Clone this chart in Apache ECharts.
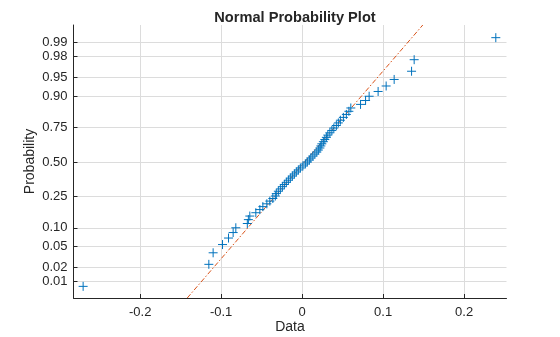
<!DOCTYPE html>
<html><head><meta charset="utf-8">
<script src="https://cdn.jsdelivr.net/npm/echarts@6/dist/echarts.min.js"></script>
<style>html,body{margin:0;padding:0;background:#fff}#c{width:560px;height:337px}</style>
</head><body><div id="c"></div>
<script>
const dataValues = [
  -0.2704, -0.1152, -0.1099, -0.0983, -0.0909, -0.0852, -0.0819, -0.0677, -0.0664, -0.0646,
  -0.0572, -0.0522, -0.0485, -0.0436, -0.0399, -0.0362, -0.0331, -0.0319, -0.0294, -0.0269,
  -0.0244, -0.0220, -0.0195, -0.0170, -0.0146, -0.0121, -0.0096, -0.0072, -0.0047, -0.0022,
   0.0009,  0.0040,  0.0064,  0.0089,  0.0107,  0.0132,  0.0157,  0.0181,  0.0200,  0.0219,
   0.0231,  0.0243,  0.0262,  0.0280,  0.0299,  0.0317,  0.0342,  0.0367,  0.0391,  0.0422,
   0.0447,  0.0472,  0.0509,  0.0546,  0.0577,  0.0601,  0.0721,  0.0783,  0.0827,  0.0938,
   0.1037,  0.1136,  0.1351,  0.1383,  0.2391
];
const probTicks = [0.01, 0.02, 0.05, 0.10, 0.25, 0.50, 0.75, 0.90, 0.95, 0.98, 0.99];
const probTickLabels = ['0.01','0.02','0.05','0.10','0.25','0.50','0.75','0.90','0.95','0.98','0.99'];
const xTicks = [-0.2, -0.1, 0, 0.1, 0.2];
const xTickLabels = ['-0.2', '-0.1', '0', '0.1', '0.2'];

// Inverse standard normal CDF (probability scale transform)
function norminv(p) {
  const a = [-3.969683028665376e+01, 2.209460984245205e+02, -2.759285104469687e+02, 1.383577518672690e+02, -3.066479806614716e+01, 2.506628277459239e+00];
  const b = [-5.447609879822406e+01, 1.615858368580409e+02, -1.556989798598866e+02, 6.680131188771972e+01, -1.328068155288572e+01];
  const c = [-7.784894002430293e-03, -3.223964580411365e-01, -2.400758277161838e+00, -2.549732539343734e+00, 4.374664141464968e+00, 2.938163982698783e+00];
  const d = [7.784695709041462e-03, 3.224671290700398e-01, 2.445134137142996e+00, 3.754408661907416e+00];
  const plow = 0.02425;
  let q, r;
  if (p < plow) {
    q = Math.sqrt(-2 * Math.log(p));
    return (((((c[0]*q+c[1])*q+c[2])*q+c[3])*q+c[4])*q+c[5]) / ((((d[0]*q+d[1])*q+d[2])*q+d[3])*q+1);
  } else if (p <= 1 - plow) {
    q = p - 0.5; r = q * q;
    return (((((a[0]*r+a[1])*r+a[2])*r+a[3])*r+a[4])*r+a[5])*q / (((((b[0]*r+b[1])*r+b[2])*r+b[3])*r+b[4])*r+1);
  } else {
    q = Math.sqrt(-2 * Math.log(1 - p));
    return -(((((c[0]*q+c[1])*q+c[2])*q+c[3])*q+c[4])*q+c[5]) / ((((d[0]*q+d[1])*q+d[2])*q+d[3])*q+1);
  }
}

const sorted = dataValues.slice().sort((u, v) => u - v);
const n = sorted.length;
const points = sorted.map((v, i) => [v, norminv((i + 0.5) / n)]);
const zTicks = probTicks.map(norminv);

// reference line through the 1st and 3rd quartiles
function prctile(arr, p) {
  const pos = n * p / 100 + 0.5; // 1-based
  const lo = Math.floor(pos), frac = pos - lo;
  const vlo = arr[Math.max(0, Math.min(n - 1, lo - 1))];
  const vhi = arr[Math.max(0, Math.min(n - 1, lo))];
  return vlo + frac * (vhi - vlo);
}
const q1 = prctile(sorted, 25), q3 = prctile(sorted, 75);
const z1 = norminv(0.25), z3 = norminv(0.75);
const slope = (q3 - q1) / (z3 - z1);
const yMin = -2.65, yMax = 2.67;
const refLine = [[q1 + slope * (yMin - z1), yMin], [q1 + slope * (yMax - z1), yMax]];

const txt = '#262626';
const font = 'Liberation Sans, Arial, sans-serif';
const chart = echarts.init(document.getElementById('c'), null, { renderer: 'canvas' });
chart.setOption({
  animation: false,
  backgroundColor: '#ffffff',
  title: {
    text: 'Normal Probability Plot',
    left: 290, top: 5, textAlign: 'center',
    textStyle: { fontFamily: font, fontSize: 14.6, fontWeight: 'bold', color: txt }
  },
  grid: { left: 73.5, right: 53.5, top: 25, bottom: 39, containLabel: false, outerBoundsMode: 'none' },
  xAxis: {
    type: 'value', min: -0.2823, max: 0.2523,
    name: 'Data', nameLocation: 'middle', nameGap: 22, nameMoveOverlap: false,
    nameTextStyle: { fontFamily: font, fontSize: 14, color: txt },
    axisLine: { show: true, onZero: false, lineStyle: { color: txt, width: 1 } },
    axisTick: { show: true, inside: true, length: 4, customValues: xTicks, lineStyle: { color: txt } },
    axisLabel: {
      customValues: xTicks, margin: 8,
      fontFamily: font, fontSize: 13, color: txt,
      formatter: v => { const i = xTicks.findIndex(t => Math.abs(t - v) < 1e-9); return i >= 0 ? xTickLabels[i] : ''; }
    },
    splitLine: { show: true, lineStyle: { color: '#dcdcdc', width: 1 } }
  },
  yAxis: {
    type: 'value', min: yMin, max: yMax,
    name: 'Probability', nameLocation: 'middle', nameGap: 36, nameRotate: 90, nameMoveOverlap: false,
    nameTextStyle: { fontFamily: font, fontSize: 14, color: txt },
    axisLine: { show: true, onZero: false, lineStyle: { color: txt, width: 1 } },
    axisTick: { show: true, inside: true, length: 4, customValues: zTicks, lineStyle: { color: txt } },
    axisLabel: {
      customValues: zTicks, margin: 6,
      fontFamily: font, fontSize: 13, color: txt,
      formatter: v => { let bi = 0; zTicks.forEach((t, i) => { if (Math.abs(t - v) < Math.abs(zTicks[bi] - v)) bi = i; }); return probTickLabels[bi]; }
    },
    splitLine: { show: true, lineStyle: { color: '#dcdcdc', width: 1 } }
  },
  series: [
    {
      type: 'line', data: refLine, symbol: 'none', silent: true, clip: true,
      lineStyle: { color: '#D95319', width: 1, type: [5, 2, 1.5, 2] }, z: 2
    },
    {
      type: 'scatter', data: points,
      symbol: 'path://M5,0 L5,10 M0,5 L10,5', symbolSize: 9,
      itemStyle: { color: 'rgba(0,0,0,0)', borderColor: '#0072BD', borderWidth: 1, opacity: 1 }, z: 3
    }
  ]
});
</script>
</body></html>
